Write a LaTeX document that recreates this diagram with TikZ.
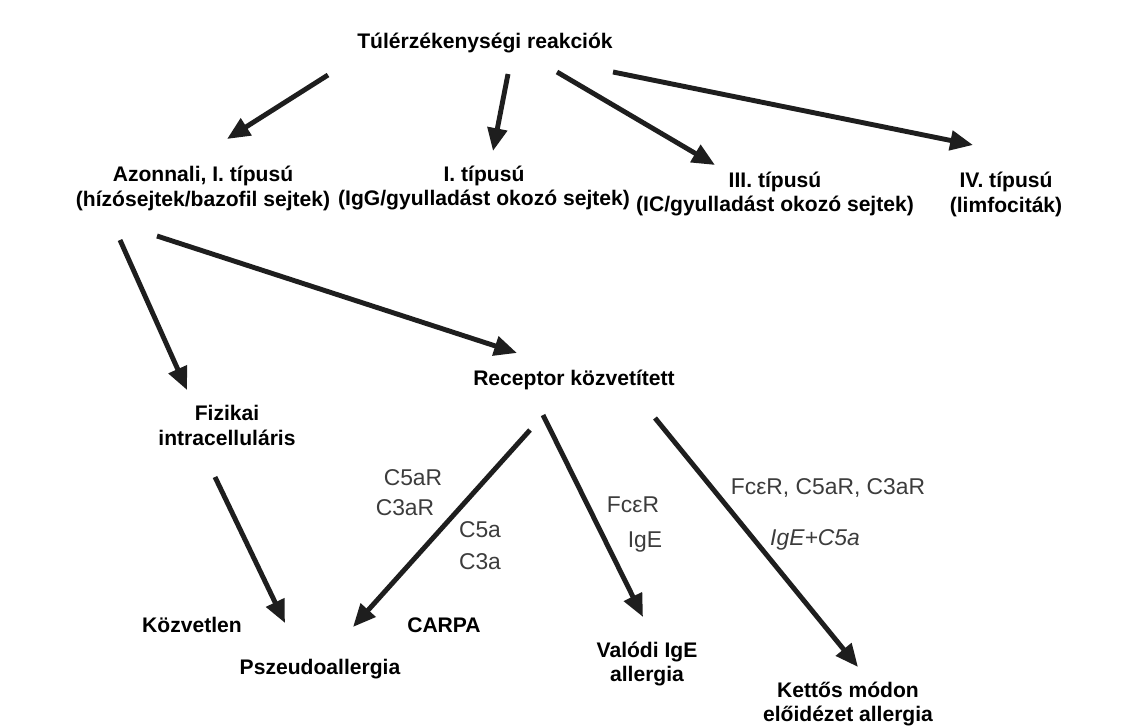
\documentclass[tikz,border=0pt]{standalone}
\usepackage{fontspec}
\setmainfont{Liberation Sans}
\usepackage{xcolor}
\usepackage{tikz}
\usetikzlibrary{arrows.meta}
\definecolor{lblgray}{HTML}{3C3C3C}
\definecolor{arrblk}{HTML}{1E1E1E}

\begin{document}
\begin{tikzpicture}[x=0.02cm,y=-0.02cm,
  box/.style={font=\fontsize{12}{14.2}\selectfont\bfseries,align=center,inner sep=0pt},
  lbl/.style={font=\fontsize{13}{15}\selectfont,text=lblgray,inner sep=0pt},
  arr/.style={line width=2.8pt,draw=arrblk,-{Triangle[length=13pt,width=11pt]}}]
\path[use as bounding box] (0,0) rectangle (1126,727);
% reaction types
\node[box] (title)  at (485,43)  {Túlérzékenységi reakciók};
\node[box] (azon)   at (203,188) {Azonnali, I. típusú\\(hízósejtek/bazofil sejtek)};
\node[box] (tipI)   at (484,188) {I. típusú\\(IgG/gyulladást okozó sejtek)};
\node[box] (tipIII) at (775,194) {III. típusú\\(IC/gyulladást okozó sejtek)};
\node[box] (tipIV)  at (1006,194) {IV. típusú\\(limfociták)};
\node[box] (recep)  at (574,380) {Receptor közvetített};
\node[box] (fiz)    at (227,425) {Fizikai\\intracelluláris};
% outcomes
\node[box] (kozv)    at (192,625) {Közvetlen};
\node[box] (carpa)   at (444,625) {CARPA};
\node[box] (pszeudo) at (320,669) {Pszeudoallergia};
\node[box] (valodi)  at (647,664) {Valódi IgE\\allergia};
\node[box] (kettos)  at (848,704) {Kettős módon\\előidézet allergia};
% receptors and mediators
\node[lbl] (c5ar)  at (413,478) {C5aR};
\node[lbl] (c3ar)  at (405,508) {C3aR};
\node[lbl] (c5a)   at (480,530) {C5a};
\node[lbl] (c3a)   at (480,562) {C3a};
\node[lbl] (fcer)  at (633,505) {FcεR};
\node[lbl] (ige)   at (645,542) {IgE};
\node[lbl] (recs)  at (828,488) {FcεR, C5aR, C3aR};
\node[lbl] (igec)  at (815,540) {\itshape IgE+C5a};
% connectors
\foreach \n/\tx/\ty/\hx/\hy in {1/328/75/227/139, 2/508/74/493/151,
    3/557/72/715/165, 4/613/72/973/145, 5/120/240/187/390,
    6/157/236/517/353, 7/215/477/285/623, 8/530/430/353/627,
    9/543/415/643/617, 10/655/418/858/667}{
  \coordinate (t\n) at (\tx,\ty);
  \coordinate (h\n) at (\hx,\hy);
  \draw[arr] (t\n) -- (h\n);
}
\end{tikzpicture}
\end{document}
